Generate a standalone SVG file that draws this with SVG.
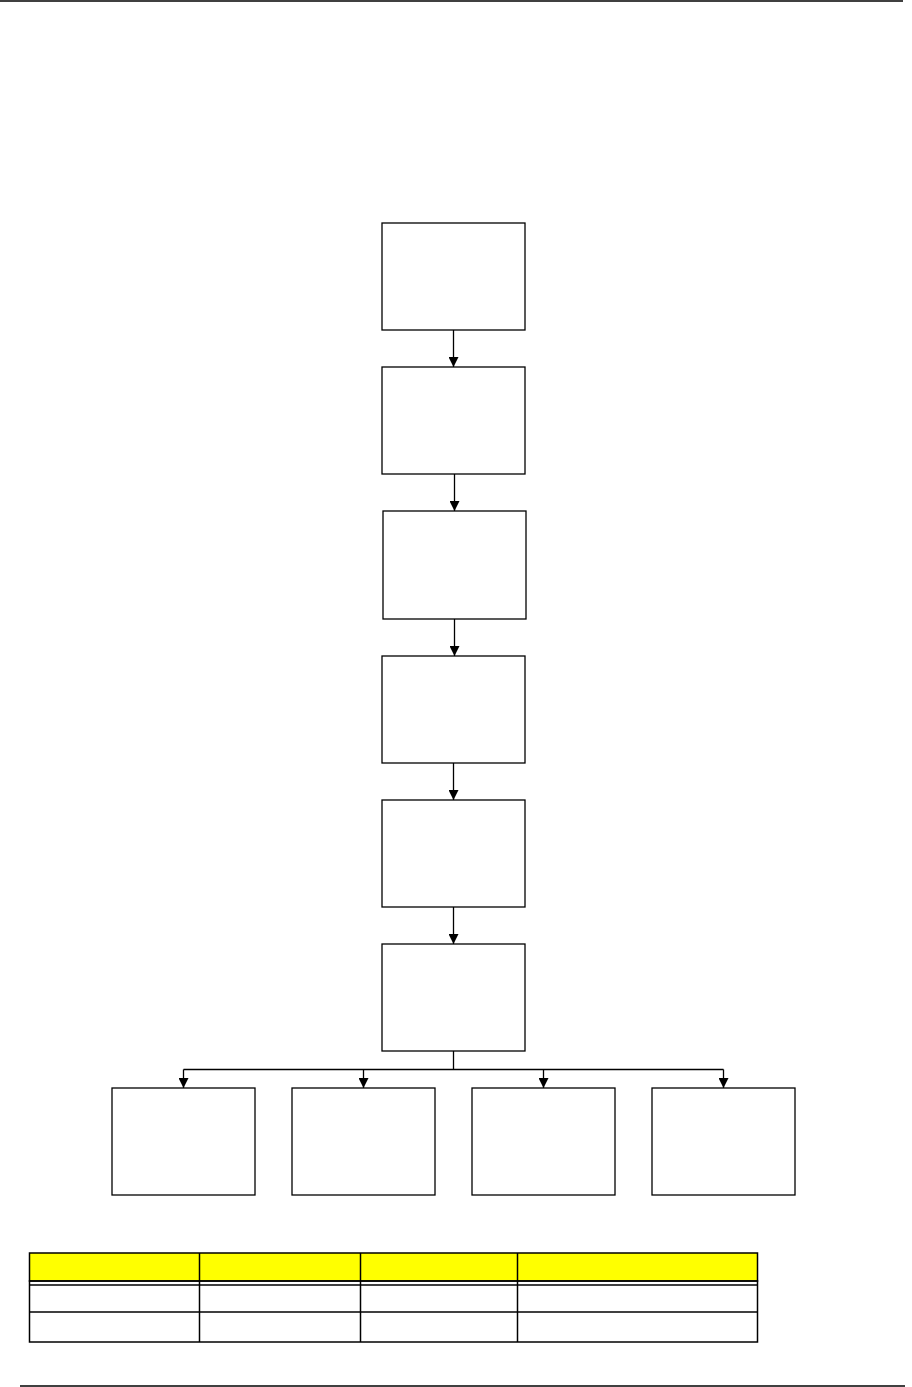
<svg xmlns="http://www.w3.org/2000/svg" width="912" height="1387" viewBox="0 0 912 1387">
<style>
.node rect{fill:#fff;stroke:#000;stroke-width:1.3}
.conn line,.conn polyline{fill:none;stroke:#000;stroke-width:1.3}
.tbl rect,.tbl line{stroke:#000;stroke-width:1.5}
</style>
<defs>
<marker id="ah" markerUnits="userSpaceOnUse" markerWidth="10" markerHeight="10" refX="10" refY="5" orient="auto">
<path d="M0,0 L10,5 L0,10 z" fill="#000"/>
</marker>
</defs>
<rect width="912" height="1387" fill="#fff"/>
<line x1="0" y1="1" x2="903" y2="1" stroke="#000" stroke-width="1.5"/>
<line x1="20" y1="1386" x2="905" y2="1386" stroke="#000" stroke-width="1.5"/>
<g id="n1" class="node"><rect x="382" y="223" width="143" height="107"/></g>
<g id="n2" class="node"><rect x="382" y="367" width="143" height="107"/></g>
<g id="n3" class="node"><rect x="383" y="511" width="143" height="108"/></g>
<g id="n4" class="node"><rect x="382" y="656" width="143" height="107"/></g>
<g id="n5" class="node"><rect x="382" y="800" width="143" height="107"/></g>
<g id="n6" class="node"><rect x="382" y="944" width="143" height="107"/></g>
<g id="n7" class="node"><rect x="112" y="1088" width="143" height="107"/></g>
<g id="n8" class="node"><rect x="292" y="1088" width="143" height="107"/></g>
<g id="n9" class="node"><rect x="472" y="1088" width="143" height="107"/></g>
<g id="n10" class="node"><rect x="652" y="1088" width="143" height="107"/></g>
<g id="connectors" class="conn">
<line x1="453.5" y1="330" x2="453.5" y2="367" marker-end="url(#ah)"/>
<line x1="454.5" y1="474" x2="454.5" y2="511" marker-end="url(#ah)"/>
<line x1="454.5" y1="619" x2="454.5" y2="656" marker-end="url(#ah)"/>
<line x1="453.5" y1="763" x2="453.5" y2="800" marker-end="url(#ah)"/>
<line x1="453.5" y1="907" x2="453.5" y2="944" marker-end="url(#ah)"/>
<line x1="453.5" y1="1051" x2="453.5" y2="1069.5"/>
<line x1="183.5" y1="1069.5" x2="723.5" y2="1069.5"/>
<line x1="183.5" y1="1069.5" x2="183.5" y2="1088" marker-end="url(#ah)"/>
<line x1="363.5" y1="1069.5" x2="363.5" y2="1088" marker-end="url(#ah)"/>
<line x1="543.5" y1="1069.5" x2="543.5" y2="1088" marker-end="url(#ah)"/>
<line x1="723.5" y1="1069.5" x2="723.5" y2="1088" marker-end="url(#ah)"/>
</g>
<g id="table" class="tbl">
<rect x="29.5" y="1253" width="728" height="28" fill="#ffff00"/>
<rect x="29.5" y="1281" width="728" height="61" fill="none"/>
<line x1="29.5" y1="1285" x2="757.5" y2="1285"/>
<line x1="29.5" y1="1312" x2="757.5" y2="1312"/>
<line x1="199.5" y1="1253" x2="199.5" y2="1342"/>
<line x1="360.5" y1="1253" x2="360.5" y2="1342"/>
<line x1="517.5" y1="1253" x2="517.5" y2="1342"/>
</g>
</svg>
